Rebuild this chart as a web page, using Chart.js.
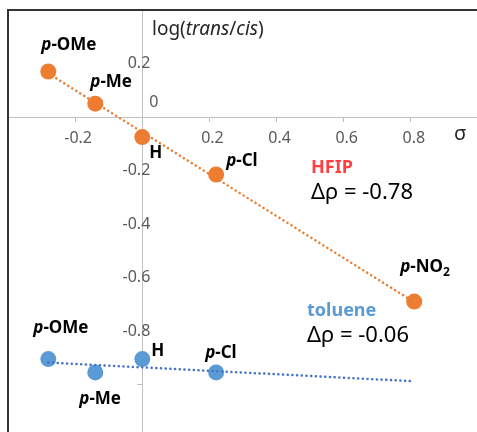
<!DOCTYPE html>
<html>
<head>
<meta charset="utf-8">
<script src="https://cdn.jsdelivr.net/npm/chart.js@4.4.0/dist/chart.umd.min.js"></script>
<style>
  body { margin: 0; overflow: hidden; background: #fff; }
  #wrap { position: absolute; left: 0; top: 0; width: 490px; height: 448px; }
</style>
</head>
<body>
<div id="wrap"><canvas id="chart"></canvas></div>
<script>
// substituents and their sigma values
const substituents = ["p-OMe", "p-Me", "H", "p-Cl", "p-NO2"];
const sigma = [-0.28, -0.14, 0, 0.22, 0.81];

// log(trans/cis) in each solvent
const hfipValues = [0.17, 0.05, -0.075, -0.215, -0.69];
const tolueneValues = [-0.905, -0.955, -0.905, -0.955];

// trendline end points
const hfipFitX = [-0.28, 0.81];
const hfipFitY = [0.163, -0.692];
const tolueneFitX = [-0.28, 0.81];
const tolueneFitY = [-0.918, -0.988];

// y tick labels that are shown (0 is drawn above the x axis)
const yTickLabels = [0.2, -0.2, -0.4, -0.6, -0.8];

// label offsets (px) from each point
const hfipLabelOffsets = [[-7, -26], [-5, -21], [7, 16], [10, -13], [-14, -34]];
const tolueneLabelOffsets = [[-15, -31], [-16, 27], [9, -8], [-11, -19]];

const FONT = "'Noto Sans', sans-serif";

const toPoints = (xs, ys) => ys.map((y, i) => ({ x: xs[i], y: y }));

// draws "p-XX" with an italic p and subscript digits
function drawSubLabel(ctx, text, x, y) {
    ctx.save();
    ctx.textBaseline = "middle";
    ctx.textAlign = "left";
    ctx.fillStyle = "#000";
    let cx = x;
    if (text.startsWith("p-")) {
        ctx.font = "italic bold 17px " + FONT;
        ctx.fillText("p", cx, y);
        cx += ctx.measureText("p").width;
        text = text.slice(1);
    }
    for (const ch of text) {
        if (/[0-9]/.test(ch)) {
            ctx.font = "bold 12px " + FONT;
            ctx.fillText(ch, cx, y + 5);
        } else {
            ctx.font = "bold 17px " + FONT;
            ctx.fillText(ch, cx, y);
        }
        cx += ctx.measureText(ch).width;
    }
    ctx.restore();
}

const textPlugin = {
    id: "textPlugin",
    afterDraw(chart) {
        const ctx = chart.ctx;
        const xs = chart.scales.x, ys = chart.scales.y;
        const a = chart.chartArea;

        // plot area frame
        ctx.save();
        ctx.strokeStyle = "#333";
        ctx.lineWidth = 2;
        ctx.strokeRect(a.left, a.top, a.right - a.left, a.bottom - a.top);
        ctx.restore();

        // y tick labels, drawn across the axis line like the original
        ctx.save();
        ctx.fillStyle = "#595959";
        ctx.font = "16px " + FONT;
        ctx.textAlign = "right";
        ctx.textBaseline = "middle";
        const axisX = xs.getPixelForValue(0);
        yTickLabels.forEach(v => {
            ctx.fillText(String(v), axisX + 8, ys.getPixelForValue(v));
        });
        ctx.textAlign = "left";
        ctx.fillText("0", axisX + 7, ys.getPixelForValue(0) - 15);
        ctx.restore();

        hfipValues.forEach((v, i) => {
            const px = xs.getPixelForValue(sigma[i]), py = ys.getPixelForValue(v);
            drawSubLabel(ctx, substituents[i], px + hfipLabelOffsets[i][0], py + hfipLabelOffsets[i][1]);
        });
        tolueneValues.forEach((v, i) => {
            const px = xs.getPixelForValue(sigma[i]), py = ys.getPixelForValue(v);
            drawSubLabel(ctx, substituents[i], px + tolueneLabelOffsets[i][0], py + tolueneLabelOffsets[i][1]);
        });

        ctx.save();
        ctx.textBaseline = "middle";
        ctx.textAlign = "left";

        // axis titles
        ctx.fillStyle = "#262626";
        let tx = 152;
        const parts = [["log(", false], ["trans", true], ["/", false], ["cis", true], [")", false]];
        for (const [t, it] of parts) {
            ctx.font = (it ? "italic " : "") + "19px " + FONT;
            ctx.fillText(t, tx, 30);
            tx += ctx.measureText(t).width;
        }
        ctx.font = "20px " + FONT;
        ctx.fillText("σ", 454, 134);

        ctx.font = "bold 18px " + FONT;
        ctx.fillStyle = "#ff4040";
        ctx.fillText("HFIP", 311, 168);
        ctx.fillStyle = "#5b9bd5";
        ctx.fillText("toluene", 307, 311);

        ctx.fillStyle = "#000";
        ctx.font = "22px " + FONT;
        ctx.fillText("Δρ = -0.78", 311, 193);
        ctx.fillText("Δρ = -0.06", 307, 336);
        ctx.restore();
    }
};

const fmt = v => (Math.round(v * 10) / 10).toString();

new Chart(document.getElementById("chart"), {
    type: "scatter",
    data: {
        datasets: [
            {
                type: "line",
                data: toPoints(hfipFitX, hfipFitY),
                borderColor: "#ed7d31",
                borderWidth: 2.5,
                borderDash: [0.1, 4.6],
                borderCapStyle: "round",
                pointRadius: 0,
                order: 0
            },
            {
                type: "line",
                data: toPoints(tolueneFitX, tolueneFitY),
                borderColor: "#4472c4",
                borderWidth: 2.5,
                borderDash: [0.1, 4.6],
                borderCapStyle: "round",
                pointRadius: 0,
                order: 0
            },
            {
                data: toPoints(sigma, hfipValues),
                backgroundColor: "#ed7d31",
                borderWidth: 0,
                pointRadius: 8,
                order: 1
            },
            {
                data: toPoints(sigma, tolueneValues),
                backgroundColor: "#5b9bd5",
                borderWidth: 0,
                pointRadius: 8,
                order: 1
            }
        ]
    },
    options: {
        responsive: true,
        maintainAspectRatio: false,
        animation: false,
        layout: { padding: { left: 8, top: 10, right: 12, bottom: 10 } },
        plugins: { legend: { display: false }, tooltip: { enabled: false } },
        scales: {
            x: {
                type: "linear",
                position: { y: 0 },
                min: -0.4,
                max: 1.0,
                afterFit: s => { s.height = 0; },
                border: { display: true, color: "#bfbfbf", width: 1 },
                grid: {
                    display: true,
                    drawOnChartArea: false,
                    drawTicks: true,
                    tickLength: 4,
                    tickColor: c => {
                        const v = c.tick ? c.tick.value : 0;
                        return (Math.abs(v) < 1e-6 || v < -0.39 || v > 0.99) ? "rgba(0,0,0,0)" : "#bfbfbf";
                    }
                },
                ticks: {
                    stepSize: 0.2,
                    padding: 8,
                    labelOffset: 3,
                    color: "#595959",
                    font: { family: "Noto Sans", size: 16 },
                    callback: v => (Math.abs(v) < 1e-6 || v < -0.39 || v > 0.99) ? "" : fmt(v)
                }
            },
            y: {
                type: "linear",
                position: { x: 0 },
                min: -1.2,
                max: 0.4,
                afterFit: s => { s.width = 0; },
                border: { display: true, color: "#bfbfbf", width: 1 },
                grid: {
                    display: true,
                    drawOnChartArea: false,
                    drawTicks: true,
                    tickLength: 5,
                    tickColor: c => (c.tick && Math.abs(c.tick.value + 1) < 1e-6) ? "#bfbfbf" : "rgba(0,0,0,0)"
                },
                ticks: { stepSize: 0.2, display: false }
            }
        }
    },
    plugins: [textPlugin]
});
</script>
</body>
</html>
